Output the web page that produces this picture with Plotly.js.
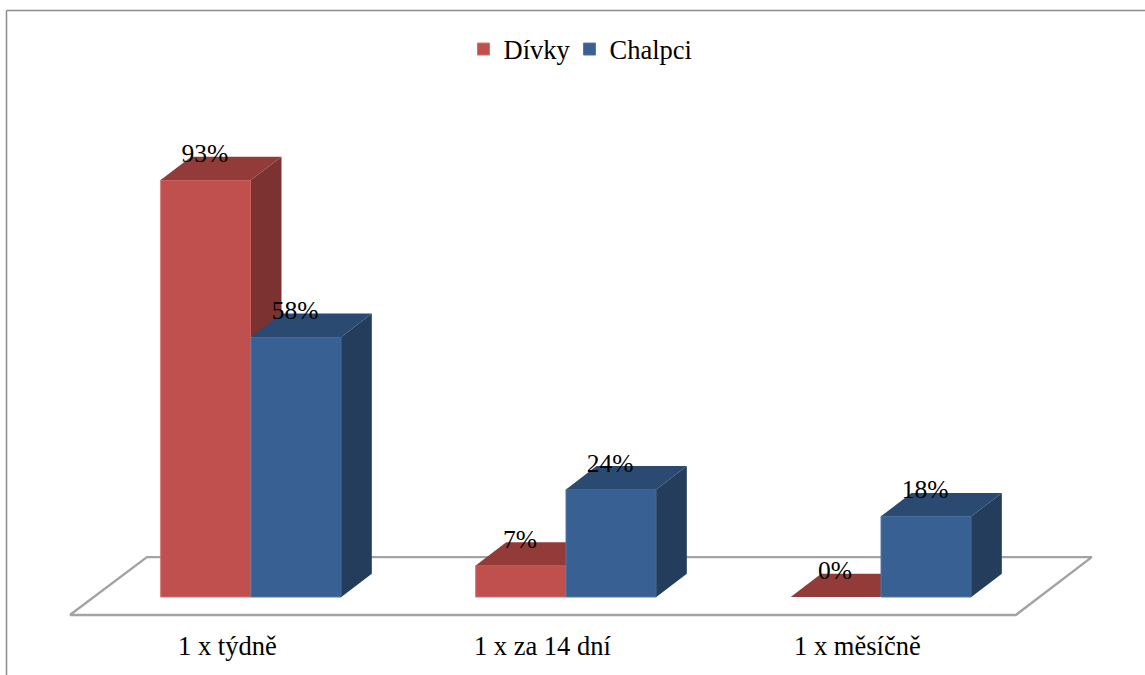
<!DOCTYPE html>
<html>
<head>
<meta charset="utf-8">
<script src="https://cdn.plot.ly/plotly-3.0.1.min.js"></script>
<style>html,body{margin:0;padding:0;background:#fff;overflow:hidden}#chart{width:1145px;height:675px}</style>
</head>
<body>
<div id="chart"></div>
<script>
const categories = ["1 x týdně", "1 x za 14 dní", "1 x měsíčně"];
const divky = [93, 7, 0];
const chalpci = [58, 24, 18];
const seriesNames = ["Dívky", "Chalpci"];

const groupPos = categories.map((c, i) => i);
const barW = 0.2867, depthX = 0.0968, depthY = 5.2;
const labelLift = 5.4, tickShift = -0.075;
const plotH = 627;
const xRange = [-0.7968, 2.838], yRange = [-6.69, 133.14];
const FONT = '"Liberation Serif", "Times New Roman", serif';

function sidePolys(vals, left) {
  const xs = [], ys = [];
  vals.forEach((v, i) => {
    const a = groupPos[i] + left + barW, b = a + depthX;
    xs.push(a, b, b, a, a, null);
    ys.push(0, depthY, v + depthY, v, 0, null);
  });
  return {x: xs, y: ys};
}
function topPolys(vals, left) {
  const xs = [], ys = [];
  vals.forEach((v, i) => {
    const a = groupPos[i] + left, b = a + barW;
    xs.push(a, b, b + depthX, a + depthX, a, null);
    ys.push(v, v, v + depthY, v + depthY, v, null);
  });
  return {x: xs, y: ys};
}
function face(p, color, ax) {
  return {type: 'scatter', mode: 'lines', x: p.x, y: p.y, fill: 'toself', fillcolor: color,
    line: {width: 0, color: color}, hoverinfo: 'skip', showlegend: false,
    xaxis: 'x' + ax, yaxis: 'y' + ax};
}
function front(vals, name, left, color, edge, ax, legendId) {
  return {type: 'bar', name: name, x: groupPos, y: vals, width: barW, offset: left,
    marker: {color: color, line: {color: edge, width: vals.map(v => v > 0 ? 1 : 0)}},
    hoverinfo: 'skip', xaxis: 'x' + ax, yaxis: 'y' + ax, legend: legendId};
}
function labels(vals, left) {
  return {type: 'scatter', mode: 'text', x: groupPos.map(g => g + left + barW / 2 - 0.003),
    y: vals.map(v => v + labelLift), text: vals.map(v => v + '%'), textposition: 'middle center',
    textfont: {family: FONT, size: 25.5, color: '#000'}, hoverinfo: 'skip', showlegend: false,
    cliponaxis: false, xaxis: 'x3', yaxis: 'y3'};
}

const floorX = [-0.575, 2.428, 2.669, -0.3305, -0.575];
const floorY = [-4.0, -4.0, 8.9, 8.9, -4.0];

const traces = [
  {type: 'scatter', mode: 'lines', x: floorX, y: floorY, fill: 'toself', fillcolor: '#fff',
   line: {color: '#a3a3a3', width: 2.4}, hoverinfo: 'skip', showlegend: false},
  front(divky, seriesNames[0], -barW, '#C0504D', '#d4716e', '2', 'legend'),
  face(sidePolys(divky, -barW), '#7C3230', '2'),
  face(topPolys(divky, -barW), '#923B38', '2'),
  front(chalpci, seriesNames[1], 0, '#386092', '#5279aa', '3', 'legend2'),
  face(sidePolys(chalpci, 0), '#243D5C', '3'),
  face(topPolys(chalpci, 0), '#2A4A72', '3'),
  labels(divky, -barW),
  labels(chalpci, 0)
];

const hidden = {range: xRange, fixedrange: true, visible: false};
const legendFont = {family: FONT, size: 26.5, color: '#000'};
const layout = {
  width: 1145, height: 675,
  margin: {l: 0, r: 0, t: 0, b: 675 - plotH, pad: 0},
  paper_bgcolor: '#fff', plot_bgcolor: 'rgba(0,0,0,0)',
  barmode: 'overlay',
  xaxis: {range: xRange, fixedrange: true, showgrid: false, zeroline: false, showline: false, ticks: '',
    tickmode: 'array', tickvals: groupPos.map(g => g + tickShift), ticktext: categories,
    tickfont: {family: FONT, size: 26.5, color: '#000'}},
  yaxis: {range: yRange, fixedrange: true, visible: false},
  xaxis2: Object.assign({overlaying: 'x'}, hidden),
  yaxis2: {range: yRange, fixedrange: true, visible: false, overlaying: 'y'},
  xaxis3: Object.assign({overlaying: 'x'}, hidden),
  yaxis3: {range: yRange, fixedrange: true, visible: false, overlaying: 'y'},
  showlegend: true,
  legend: {orientation: 'h', x: 0.4048, xanchor: 'left', y: 0.9596, yanchor: 'top',
    font: legendFont, bgcolor: 'rgba(0,0,0,0)'},
  legend2: {orientation: 'h', x: 0.4974, xanchor: 'left', y: 0.9596, yanchor: 'top',
    font: legendFont, bgcolor: 'rgba(0,0,0,0)'},
  shapes: [
    {type: 'line', xref: 'paper', yref: 'paper', x0: 6.5/1145, x1: 6.5/1145, y0: 1 - 10.5/plotH, y1: -(675 - plotH)/plotH,
     line: {color: '#8c8c8c', width: 1.5}},
    {type: 'line', xref: 'paper', yref: 'paper', x0: 6.5/1145, x1: 1, y0: 1 - 10.5/plotH, y1: 1 - 10.5/plotH,
     line: {color: '#8c8c8c', width: 1.5}}
  ]
};
Plotly.newPlot('chart', traces, layout, {displayModeBar: false, staticPlot: true});
</script>
</body>
</html>
